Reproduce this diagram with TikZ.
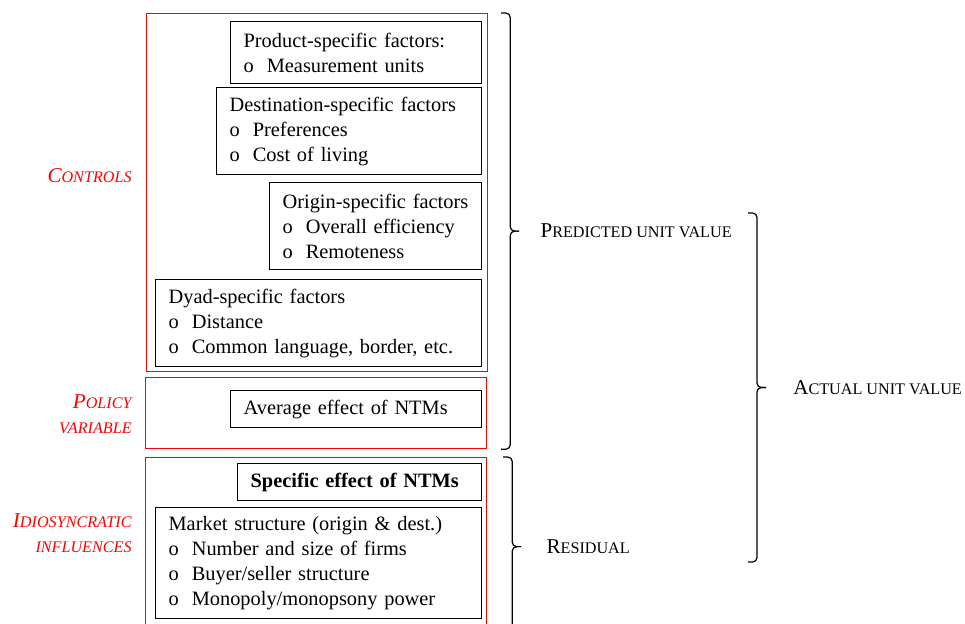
\documentclass[tikz,border=0pt]{standalone}
\usepackage{fontspec}
\setmainfont{Liberation Serif}
\usepackage{tikz}
\usetikzlibrary{calc}
\usetikzlibrary{positioning}

\newcommand{\smc}[1]{{\fontsize{9.2}{14.2}\selectfont #1}}
\newcommand{\bul}{o\hspace{0.26cm}}
\newcommand{\sidebrace}[3]{%
	\coordinate (#3) at ($(#1)!0.5!(#2)$);
	\draw[bracepen] (#1) -- ++(0.18,0) |- ([xshift=0.36cm]#3);
	\draw[bracepen] (#2) -- ++(0.18,0) |- ([xshift=0.36cm]#3);
}

\tikzset{
	factor/.style={draw, line width=0.7pt, anchor=north west, align=left, inner xsep=0.26cm, inner ysep=0pt, font=\fontsize{11.6}{14.2}\selectfont},
	group/.style={draw=red, line width=0.7pt, anchor=north west, inner sep=0pt},
	grouplabel/.style={anchor=east, align=right, inner sep=0pt, text=red, font=\fontsize{12}{14.2}\selectfont\itshape},
	bracelabel/.style={anchor=west, inner sep=0pt, font=\fontsize{12}{14.2}\selectfont},
	bracepen/.style={line width=0.7pt, rounded corners=2.5pt}
}

\begin{document}
\begin{tikzpicture}
				\useasboundingbox (0,0) rectangle (19.3,-12.46);
				
				\node[group, minimum width=6.82cm, minimum height=7.16cm] (controls) at (2.92,-0.26) {};
				\node[group, minimum width=6.82cm, minimum height=1.42cm] (policy) at (2.90,-7.54) {};
				\node[group, minimum width=6.82cm, minimum height=3.56cm] (idio) at (2.90,-9.14) {};
				
				\node[factor, text width=4.50cm, minimum height=1.24cm] (product) at (4.60,-0.42) {Product-specific factors:\\ \bul Measurement units};
				\node[factor, text width=4.78cm, minimum height=1.74cm] (destination) at (4.32,-1.74) {Destination-specific factors\\ \bul Preferences\\ \bul Cost of living};
				\node[factor, text width=3.72cm, minimum height=1.74cm] (origin) at (5.38,-3.64) {\mbox{Origin-specific factors}\\ \bul Overall efficiency\\ \bul Remoteness};
				\node[factor, text width=6.00cm, minimum height=1.74cm] (dyad) at (3.10,-5.58) {Dyad-specific factors\\ \bul Distance\\ \bul Common language, border, etc.};
				\node[factor, text width=4.50cm, minimum height=0.74cm] (average) at (4.60,-7.80) {Average effect of NTMs};
				\node[factor, text width=4.36cm, minimum height=0.74cm] (specific) at (4.74,-9.26) {\textbf{Specific effect of NTMs}};
				\node[factor, text width=6.00cm, minimum height=2.22cm] (market) at (3.10,-10.14) {Market structure (origin \& dest.)\\ \bul Number and size of firms\\ \bul Buyer/seller structure\\ \bul Monopoly/monopsony power};
				
				\node[grouplabel] (controlslabel) at (2.64,-3.52) {C\smc{ONTROLS}};
				\node[grouplabel] (policylabel) at (2.64,-8.28) {P\smc{OLICY}\\ \smc{VARIABLE}};
				\node[grouplabel] (idiolabel) at (2.64,-10.67) {I\smc{DIOSYNCRATIC}\\ \smc{INFLUENCES}};
				
				\coordinate (predictedtop) at ([xshift=0.26cm]controls.north east);
				\coordinate (predictedbottom) at ([xshift=0.28cm]policy.south east);
				\coordinate (residualtop) at ([xshift=0.32cm]idio.north east);
				\coordinate (residualbottom) at ([xshift=0.32cm]idio.south east);
				\coordinate (actualtop) at (14.96,-4.26);
				\coordinate (actualbottom) at (14.96,-11.24);
				
				\sidebrace{predictedtop}{predictedbottom}{predictedmid}
				\sidebrace{residualtop}{residualbottom}{residualmid}
				\sidebrace{actualtop}{actualbottom}{actualmid}
				
				\node[bracelabel] (predicted) at ([xshift=0.78cm]predictedmid) {P\smc{REDICTED UNIT VALUE}};
				\node[bracelabel] (residual) at ([xshift=0.86cm]residualmid) {R\smc{ESIDUAL}};
				\node[bracelabel] (actual) at ([xshift=0.90cm]actualmid) {A\smc{CTUAL UNIT VALUE}};
			\end{tikzpicture}
\end{document}
